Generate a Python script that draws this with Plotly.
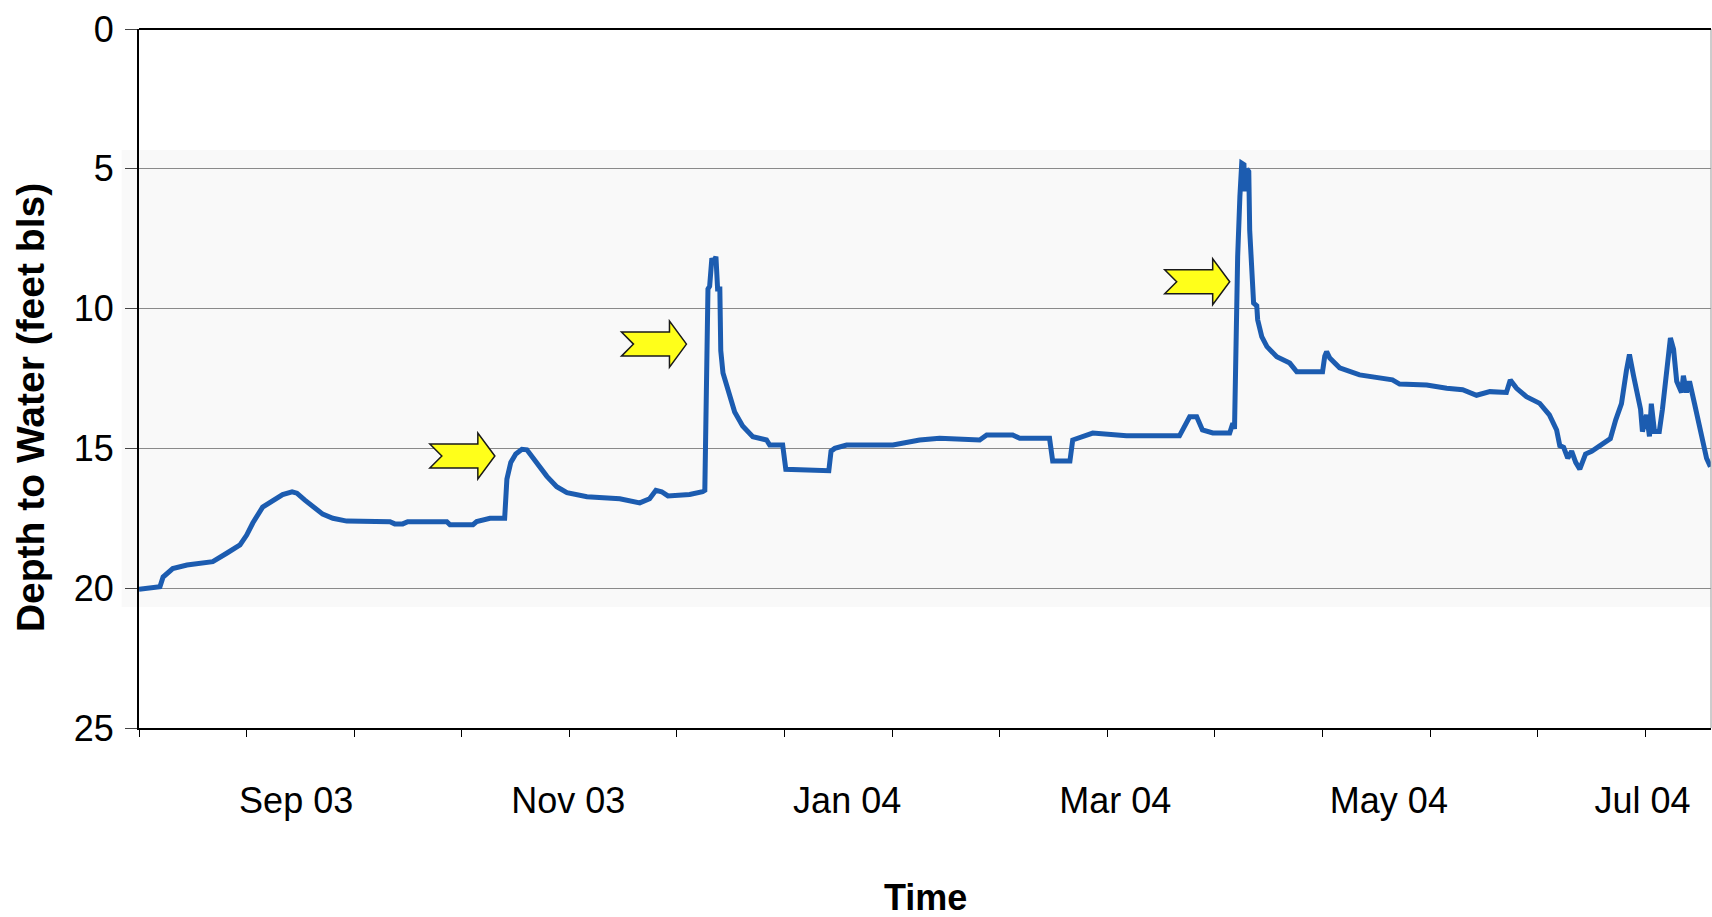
import plotly.graph_objects as go

# ---- data ----
dates = [
    "2003-07-27 00:00", "2003-07-29 12:00", "2003-07-31 17:00", "2003-08-01 10:00",
    "2003-08-03 14:00", "2003-08-06 19:00", "2003-08-09 17:00", "2003-08-12 14:00",
    "2003-08-15 17:00", "2003-08-18 17:00", "2003-08-20 05:00", "2003-08-21 14:00",
    "2003-08-23 19:00", "2003-08-26 02:00", "2003-08-28 07:00", "2003-08-30 10:00",
    "2003-08-31 12:00", "2003-09-02 07:00", "2003-09-04 02:00", "2003-09-06 07:00",
    "2003-09-08 14:00", "2003-09-11 17:00", "2003-09-21 10:00", "2003-09-22 12:00",
    "2003-09-24 07:00", "2003-09-25 10:00", "2003-10-04 05:00", "2003-10-04 22:00",
    "2003-10-10 02:00", "2003-10-10 22:00", "2003-10-13 22:00", "2003-10-17 05:00",
    "2003-10-17 17:00", "2003-10-18 14:00", "2003-10-19 17:00", "2003-10-21 02:00",
    "2003-10-22 05:00", "2003-10-24 10:00", "2003-10-26 17:00", "2003-10-28 22:00",
    "2003-10-31 05:00", "2003-11-04 17:00", "2003-11-12 02:00", "2003-11-16 14:00",
    "2003-11-18 19:00", "2003-11-20 05:00", "2003-11-21 12:00", "2003-11-22 22:00",
    "2003-11-27 19:00", "2003-11-30 17:00", "2003-12-01 05:00", "2003-12-01 22:00",
    "2003-12-02 07:00", "2003-12-02 19:00", "2003-12-03 05:00", "2003-12-03 17:00",
    "2003-12-04 02:00", "2003-12-04 14:00", "2003-12-04 19:00", "2003-12-05 07:00",
    "2003-12-06 02:00", "2003-12-06 19:00", "2003-12-07 22:00", "2003-12-09 17:00",
    "2003-12-12 00:00", "2003-12-15 02:00", "2003-12-15 19:00", "2003-12-18 17:00",
    "2003-12-19 10:00", "2003-12-29 02:00", "2003-12-29 14:00", "2003-12-30 10:00",
    "2004-01-02 02:00", "2004-01-12 12:00", "2004-01-18 12:00", "2004-01-23 00:00",
    "2004-02-01 00:00", "2004-02-02 14:00", "2004-02-08 10:00", "2004-02-10 00:00",
    "2004-02-16 17:00", "2004-02-17 10:00", "2004-02-21 07:00", "2004-02-21 22:00",
    "2004-02-26 10:00", "2004-03-05 00:00", "2004-03-16 22:00", "2004-03-19 05:00",
    "2004-03-20 19:00", "2004-03-22 02:00", "2004-03-24 10:00", "2004-03-28 05:00",
    "2004-03-28 22:00", "2004-03-29 07:00", "2004-03-29 19:00", "2004-03-30 00:00",
    "2004-03-30 12:00", "2004-03-30 22:00", "2004-03-31 10:00", "2004-03-31 14:00",
    "2004-04-01 02:00", "2004-04-01 12:00", "2004-04-01 17:00", "2004-04-02 05:00",
    "2004-04-02 14:00", "2004-04-03 07:00", "2004-04-03 12:00", "2004-04-04 10:00",
    "2004-04-05 14:00", "2004-04-07 19:00", "2004-04-10 17:00", "2004-04-12 07:00",
    "2004-04-18 02:00", "2004-04-18 14:00", "2004-04-19 00:00", "2004-04-19 17:00",
    "2004-04-21 22:00", "2004-04-26 10:00", "2004-04-30 22:00", "2004-05-03 19:00",
    "2004-05-05 10:00", "2004-05-11 12:00", "2004-05-16 00:00", "2004-05-19 14:00",
    "2004-05-22 17:00", "2004-05-25 17:00", "2004-05-29 10:00", "2004-05-30 07:00",
    "2004-05-31 17:00", "2004-06-02 22:00", "2004-06-05 22:00", "2004-06-08 02:00",
    "2004-06-09 17:00", "2004-06-10 10:00", "2004-06-11 07:00", "2004-06-12 05:00",
    "2004-06-13 02:00", "2004-06-14 00:00", "2004-06-14 22:00", "2004-06-16 05:00",
    "2004-06-17 14:00", "2004-06-19 10:00", "2004-06-20 12:00", "2004-06-21 19:00",
    "2004-06-23 00:00", "2004-06-24 07:00", "2004-06-25 10:00", "2004-06-26 02:00",
    "2004-06-27 00:00", "2004-06-27 22:00", "2004-06-28 14:00", "2004-06-29 00:00",
    "2004-06-29 22:00", "2004-06-30 14:00", "2004-07-01 00:00", "2004-07-01 17:00",
    "2004-07-02 19:00", "2004-07-03 12:00", "2004-07-04 10:00", "2004-07-05 07:00",
    "2004-07-06 00:00", "2004-07-06 17:00", "2004-07-07 19:00", "2004-07-08 05:00",
    "2004-07-08 22:00", "2004-07-09 14:00", "2004-07-10 17:00", "2004-07-11 14:00",
    "2004-07-12 17:00", "2004-07-13 10:00", "2004-07-14 07:00",
]
depth_ft = [
    20.04, 20.00, 19.95, 19.60,
    19.30, 19.17, 19.10, 19.05,
    18.75, 18.45, 18.10, 17.67,
    17.10, 16.85, 16.65, 16.55,
    16.60, 16.85, 17.10, 17.35,
    17.50, 17.60, 17.62, 17.70,
    17.70, 17.62, 17.62, 17.73,
    17.73, 17.62, 17.50, 17.50,
    16.10, 15.50, 15.20, 15.03,
    15.05, 15.50, 16.00, 16.37,
    16.58, 16.73, 16.80, 16.95,
    16.80, 16.50, 16.55, 16.70,
    16.65, 16.55, 16.50, 9.30,
    9.20, 8.20, 8.35, 8.14,
    9.30, 9.30, 11.50, 12.30,
    12.70, 13.00, 13.70, 14.20,
    14.58, 14.70, 14.88, 14.88,
    15.75, 15.80, 15.10, 15.00,
    14.88, 14.88, 14.70, 14.64,
    14.70, 14.52, 14.52, 14.64,
    14.64, 15.45, 15.45, 14.70,
    14.45, 14.55, 14.55, 13.87,
    13.87, 14.34, 14.45, 14.45,
    14.10, 14.30, 8.30, 8.14,
    6.00, 4.80, 4.85, 5.80,
    5.00, 5.10, 7.20, 8.86,
    9.80, 9.90, 10.40, 11.00,
    11.36, 11.72, 11.95, 12.26,
    12.26, 11.70, 11.54, 11.77,
    12.12, 12.37, 12.50, 12.55,
    12.70, 12.73, 12.85, 12.90,
    13.10, 12.97, 13.00, 12.55,
    12.85, 13.15, 13.39, 13.80,
    14.34, 14.90, 14.96, 15.35,
    15.10, 15.50, 15.74, 15.20,
    15.10, 14.90, 14.80, 14.65,
    13.98, 13.40, 12.20, 11.64,
    12.40, 13.00, 13.60, 14.40,
    13.80, 14.57, 13.40, 14.40,
    14.40, 13.60, 12.40, 11.05,
    11.45, 12.60, 13.00, 12.40,
    13.00, 12.60, 13.40, 14.00,
    14.77, 15.35, 15.66,
]

# month labels sit where the reference prints them
tick_dates = ["2003-08-31 08:00", "2003-10-31 12:00", "2004-01-02 05:00",
              "2004-03-02 12:00", "2004-05-03 00:00", "2004-06-29 00:00"]
tick_labels = ["Sep 03", "Nov 03", "Jan 04", "Mar 04", "May 04", "Jul 04"]
y_ticks = [0, 5, 10, 15, 20, 25]

# events marked with arrows (tip date, tip depth)
arrow_dates = ["2003-10-15 00:00", "2003-11-27 02:00", "2004-03-28 05:00"]
arrow_depths = [15.27, 11.27, 9.04]

x_range = ["2003-07-27 00:00", "2004-07-14 10:00"]
y_range = [25, 0]

FONT = "Liberation Sans, Arial, Helvetica, sans-serif"
LINE_BLUE = "#1c5cb0"

fig = go.Figure()
fig.add_trace(go.Scatter(
    x=dates, y=depth_ft, mode="lines",
    line=dict(color=LINE_BLUE, width=5),
    showlegend=False, hoverinfo="x+y",
))

# notched block arrow outline, in pixels relative to the tip
arrow_path = "M 0 0 L -17 23 L -17 12 L -65 12 L -53 0 L -65 -12 L -17 -12 L -17 -23 Z"
shapes = [
    # faint grey scan band behind the plot
    dict(type="rect", xref="paper", yref="y", x0=-0.011, x1=1.0, y0=4.33, y1=20.67,
         fillcolor="#f9f9f9", line=dict(width=0), layer="below"),
    # right border
    dict(type="line", xref="paper", yref="paper", x0=1, x1=1, y0=0, y1=1,
         line=dict(color="#9a9a9a", width=1)),
    # top border
    dict(type="line", xref="paper", yref="paper", x0=0, x1=1, y0=1, y1=1,
         line=dict(color="black", width=2)),
]
for ad, adep in zip(arrow_dates, arrow_depths):
    shapes.append(dict(
        type="path", xref="x", yref="y", xsizemode="pixel", ysizemode="pixel",
        xanchor=ad, yanchor=adep, path=arrow_path,
        fillcolor="#ffff1a", line=dict(color="#1a1a1a", width=1.5), layer="above",
    ))

fig.update_layout(
    width=1712, height=917,
    margin=dict(l=139, r=1, t=29, b=189),
    paper_bgcolor="white", plot_bgcolor="white",
    font=dict(family=FONT, color="black"),
    shapes=shapes,
    annotations=[
        dict(text="<b>Depth to Water (feet bls)</b>", xref="paper", yref="paper",
             x=-0.0694, y=0.459, xanchor="center", yanchor="middle", textangle=-90,
             showarrow=False, font=dict(size=39, family=FONT, color="black")),
        dict(text="<b>Time</b>", xref="paper", yref="paper",
             x=0.5, y=-0.243, xanchor="center", yanchor="middle",
             showarrow=False, font=dict(size=36, family=FONT, color="black")),
    ],
    xaxis=dict(
        type="date", range=x_range,
        tickvals=tick_dates, ticktext=tick_labels,
        ticks="", ticklen=0, ticklabelstandoff=40,
        tickfont=dict(size=36, family=FONT, color="black"),
        showgrid=False, zeroline=False,
        showline=True, linecolor="black", linewidth=2, mirror=False,
        minor=dict(ticks="outside", ticklen=7, tickwidth=1, tickcolor="black",
                   tick0="2003-07-27", dtick=24.19 * 86400000, showgrid=False),
    ),
    yaxis=dict(
        range=y_range, tickvals=y_ticks,
        ticks="outside", ticklen=12, tickwidth=1, tickcolor="#444",
        ticklabelstandoff=4,
        tickfont=dict(size=36, family=FONT, color="black"),
        showgrid=True, gridcolor="#8a8a8a", gridwidth=1,
        zeroline=False,
        showline=True, linecolor="black", linewidth=2,
    ),
)

# page with no body margin / scrollbars so the 1712x917 figure fills the window
fig.write_html(
    "out.html",
    config={"displayModeBar": False},
    post_script="document.body.style.margin='0px';document.body.style.overflow='hidden';",
)
